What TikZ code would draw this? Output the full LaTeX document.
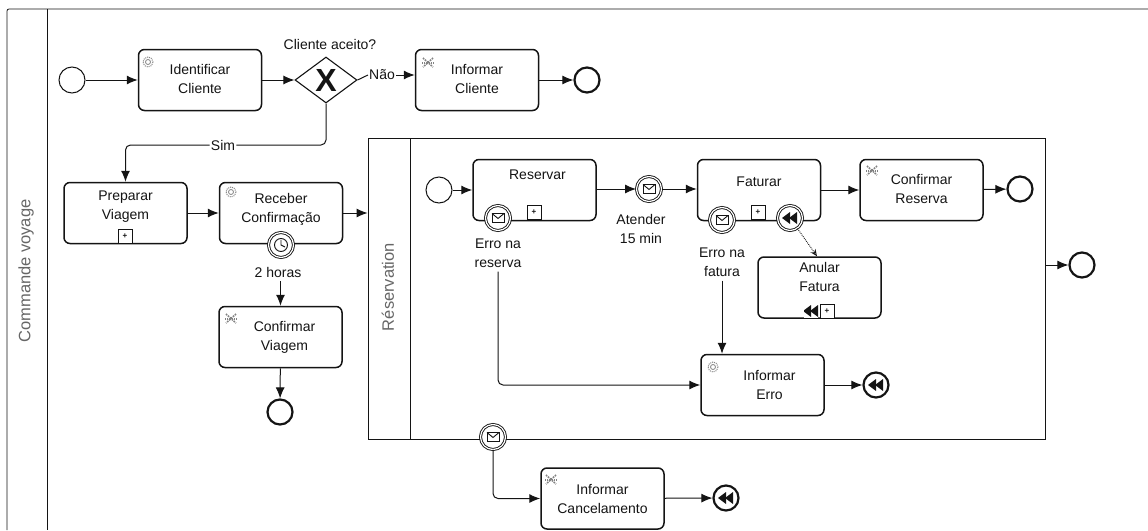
\documentclass[tikz,border=0pt]{standalone}
\usepackage{fontspec}
\setmainfont{Liberation Sans}
\usepackage{xcolor}
\usetikzlibrary{shapes,arrows,arrows.meta,positioning,calc}
\definecolor{inkdark}{RGB}{20, 20, 20}
\definecolor{signgray}{RGB}{130, 130, 130}

\tikzset{
    envelopesign/.style={path picture={
        \coordinate (c) at (path picture bounding box.center);
        \draw[line width=0.9pt] ($(c)+(-6,-4.5)$) rectangle ($(c)+(6,4.5)$);
        \draw[line width=0.9pt] ($(c)+(-6,-4.5)$) -- ($(c)+(0,0.5)$) -- ($(c)+(6,-4.5)$);
    }},
    rewindsign/.style={path picture={
        \coordinate (c) at (path picture bounding box.center);
        \fill[inkdark] ($(c)+(0,-6)$) -- ($(c)+(-8,0)$) -- ($(c)+(0,6)$) -- cycle;
        \fill[inkdark] ($(c)+(7,-6)$) -- ($(c)+(-1,0)$) -- ($(c)+(7,6)$) -- cycle;
    }},
    clocksign/.style={path picture={
        \coordinate (c) at (path picture bounding box.center);
        \draw[line width=0.9pt] (c) circle (6.5);
        \draw[line width=0.9pt] ($(c)+(0,-5)$) -- (c) -- ($(c)+(4,2)$);
    }},
    gearsign/.pic={
        \draw[signgray, line width=1pt, densely dotted] (0,0) circle (5);
        \draw[signgray, line width=0.8pt] (0,0) circle (2.5);
    },
    handsign/.pic={
        \draw[signgray, line width=1.6pt, densely dotted] (-5,-5) -- (5,4);
        \draw[signgray, line width=1.6pt, densely dotted] (5,-5) -- (-5,4);
        \draw[signgray, line width=1.2pt, densely dotted] (-6,0) -- (6,0);
    }
}

\begin{document}
\begin{tikzpicture}[x=1pt, y=-1pt, every node/.style={font=\fontsize{14}{19}\selectfont, text=inkdark}]
    \tikzstyle{taskbox} = [draw=inkdark, fill=white, line width=1.5pt, rounded corners=6pt, minimum width=123pt, minimum height=61pt, align=center, inner sep=0pt]
    \tikzstyle{startev} = [draw=inkdark, fill=white, circle, line width=1pt, minimum size=26pt, inner sep=0pt]
    \tikzstyle{endev} = [draw=inkdark, fill=white, circle, line width=2.2pt, minimum size=25pt, inner sep=0pt]
    \tikzstyle{midev} = [draw=inkdark, fill=white, circle, double, line width=0.9pt, double distance=1.2pt, minimum size=25pt, inner sep=0pt]
    \tikzstyle{plusbox} = [draw=inkdark, fill=white, line width=1pt, minimum size=14pt, inner sep=0pt, font=\bfseries\footnotesize]
    \tikzstyle{seqflow} = [line width=1pt, -{Latex[length=11pt,width=9pt]}, inkdark, rounded corners=5pt]
    \tikzstyle{lbl} = [align=center, inner sep=1pt, fill=white]
    \tikzstyle{poolline} = [line width=0.8pt, inkdark]
    \tikzstyle{bandname} = [rotate=90, text=inkdark!65, font=\fontsize{16.5}{18}\selectfont]

    \useasboundingbox (0,0) rectangle (1148,530);

    % pool
    \coordinate (pooltl) at (7,9);
    \coordinate (pooltr) at (1148,9);
    \coordinate (poolbl) at (7,530);
    \coordinate (bandtop) at (47,9);
    \coordinate (bandbot) at (47,530);
    \draw[poolline, rounded corners=2pt] (poolbl) -- (pooltl) -- (pooltr);
    \draw[poolline] (bandtop) -- (bandbot);
    \node[bandname] (poolname) at (26,271) {Commande voyage};

    % top row
    \node[startev] (start) at (72,80) {};
    \node[taskbox] (identificar) at (200,80) {Identificar\\Cliente\\[-17pt]\mbox{}};
    \node[draw=inkdark, fill=white, diamond, line width=1.1pt, minimum width=62pt, minimum height=46pt, inner sep=0pt, aspect=1.35] (gate) at (326,80) {};
    \node[font=\fontsize{32}{32}\selectfont\bfseries] (gatex) at (326,80) {X};
    \node[inner sep=1pt] (gatename) at (330,44) {Cliente aceito?};
    \node[lbl] (nao) at (382,75) {Não};
    \node[taskbox] (infcliente) at (477,80) {Informar\\Cliente\\[-17pt]\mbox{}};
    \node[endev] (end1) at (587,80) {};
    \node[lbl] (sim) at (223,145) {Sim};

    % second row
    \node[taskbox] (preparar) at (125.5,213) {Preparar\\Viagem\\[-4pt]\mbox{}};
    \node[plusbox] (plus1) at (125,236) {+};
    \node[taskbox] (receber) at (281,213) {Receber\\Confirmação\\[-9pt]\mbox{}};
    \node[midev, clocksign] (timer) at (281,245) {};
    \node[lbl] (horas) at (278,272) {2 horas};
    \node[taskbox] (confviagem) at (280.5,337) {\hspace*{8pt}Confirmar\\\hspace*{8pt}Viagem};
    \node[endev] (end2) at (280,412) {};

    % reservation
    \node[draw=inkdark, line width=0.8pt, minimum width=677pt, minimum height=301pt, inner sep=0pt] (sub) at (706.5,288.5) {};
    \coordinate (subbandtop) at (410,138);
    \coordinate (subbandbot) at (410,439);
    \draw[poolline] (subbandtop) -- (subbandbot);
    \node[bandname] (subname) at (388,287) {Réservation};

    \node[startev] (substart) at (439,190) {};
    \node[taskbox] (reservar) at (534.5,190) {\hspace*{6pt}Reservar\\[11pt]\mbox{}};
    \node[plusbox] (plus2) at (534,212) {+};
    \node[midev, envelopesign] (errres) at (498,218) {};
    \node[lbl] (errreslbl) at (498,253) {Erro na\\reserva};
    \node[midev, envelopesign] (atender) at (649,189) {};
    \node[lbl] (atenderlbl) at (641,229) {Atender\\15 min};
    \node[taskbox] (faturar) at (759,190) {Faturar\\[-3pt]\mbox{}};
    \node[plusbox] (plus3) at (758,212) {+};
    \node[midev, envelopesign] (errfat) at (722,220) {};
    \node[midev, rewindsign] (canfat) at (790,218) {};
    \node[lbl] (errfatlbl) at (722,262) {Erro na\\fatura};
    \node[taskbox] (confreserva) at (921.5,190) {Confirmar\\Reserva\\[-17pt]\mbox{}};
    \node[endev] (end3) at (1020,189) {};
    \node[taskbox] (anular) at (819.5,287.5) {Anular\\Fatura\\[2pt]\mbox{}};
    \node[plusbox] (plus4) at (827,311) {+};
    \node[fill=white, inner sep=0pt, minimum size=14pt, rewindsign] (rew) at (811,311) {};
    \node[taskbox] (inferro) at (762.5,385) {\hspace*{14pt}Informar\\\hspace*{14pt}Erro};
    \node[endev, rewindsign] (end4) at (876,385) {};
    \node[endev] (end5) at (1082,265) {};

    % below reservation
    \node[midev, envelopesign] (cancev) at (493,437) {};
    \node[taskbox] (infcanc) at (602.5,498.5) {Informar\\Cancelamento};
    \node[endev, rewindsign] (end6) at (726,498) {};

    % task signs
    \pic at (148,62) {gearsign};
    \pic at (428,63) {handsign};
    \pic at (231,192) {gearsign};
    \pic at (231,319) {handsign};
    \pic at (872,171) {handsign};
    \pic at (713,367) {gearsign};
    \pic at (551,480) {handsign};

    % flows
    \draw[seqflow] (start) -- (identificar);
    \draw[seqflow] (identificar) -- (gate);
    \draw[line width=1pt, inkdark] (gate.east) -- (nao.west);
    \draw[seqflow] (nao.east) -- (nao.east -| infcliente.west);
    \draw[seqflow] (infcliente) -- (end1);
    \draw[line width=1pt, inkdark, rounded corners=5pt] (gate.south) |- (sim.east);
    \draw[seqflow] (sim.west) -| (preparar.north);
    \draw[seqflow] (preparar) -- (receber);
    \draw[seqflow] (receber) -- (receber -| sub.west);
    \draw[seqflow] (horas.south -| confviagem.north) ++(0,3) -- (confviagem.north);
    \draw[seqflow] (confviagem) -- (end2);

    \draw[seqflow] (substart) -- (substart -| reservar.west);
    \draw[seqflow] (atender -| reservar.east) -- (atender);
    \draw[seqflow] (atender) -- (faturar.west |- atender);
    \draw[seqflow] (faturar.east |- confreserva) -- (confreserva);
    \draw[seqflow] (confreserva) -- (end3);
    \draw[line width=0.9pt, densely dotted, inkdark, -{Stealth[open,length=7pt,width=6pt]}] (canfat) -- (anular.north -| 817,0);
    \draw[seqflow] (errreslbl.south) ++(0,3) |- (inferro.west);
    \draw[seqflow] (errfatlbl.south) ++(0,3) -- (errfatlbl.south |- inferro.north);
    \draw[seqflow] (inferro) -- (end4);
    \draw[seqflow] (end5 -| sub.east) -- (end5);
    \draw[seqflow] (cancev) |- (infcanc.west);
    \draw[seqflow] (infcanc) -- (end6);
\end{tikzpicture}
\end{document}
